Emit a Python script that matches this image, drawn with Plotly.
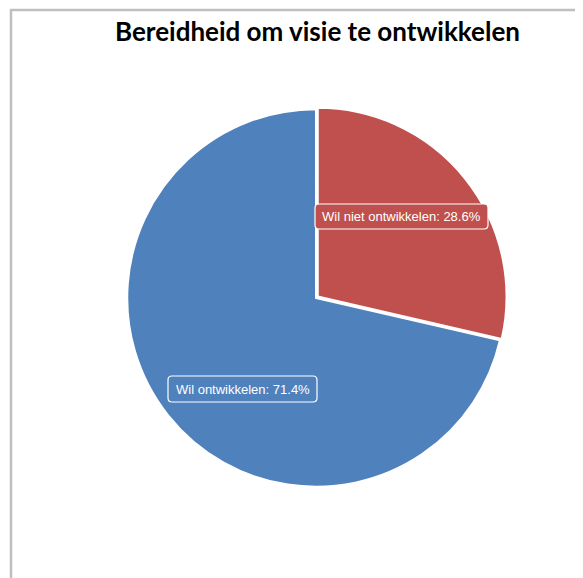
import plotly.graph_objects as go

# page renders with an 8px body margin, so the figure is 8px smaller and coordinates are offset
OFF = 8
W, H = 583 - OFF, 578 - OFF

title = "Bereidheid om visie te ontwikkelen"
categories = ["Wil niet ontwikkelen", "Wil ontwikkelen"]
values = [28.6, 71.4]
colors = ["#C0504D", "#4F81BD"]


def px(x):
    return (x - OFF) / W


def py(y):
    return 1 - (y - OFF) / H


cx, cy, r = 316, 298, 191

fig = go.Figure(go.Pie(
    labels=categories,
    values=values,
    sort=False,
    direction="clockwise",
    rotation=0,
    marker=dict(colors=colors, line=dict(color="white", width=2)),
    pull=[0.012, 0],
    textinfo="none",
    hoverinfo="label+percent",
    showlegend=False,
    domain=dict(x=[px(cx - r), px(cx + r)], y=[py(cy + r), py(cy - r)]),
))


def rounded_rect(x0, y0, x1, y1, rad=4):
    # pixel coords -> paper path with rounded corners
    X0, X1 = px(x0), px(x1)
    Y0, Y1 = py(y0), py(y1)
    rx, ry = rad / W, rad / H
    return (f"M {X0 + rx},{Y0} L {X1 - rx},{Y0} Q {X1},{Y0} {X1},{Y0 - ry} "
            f"L {X1},{Y1 + ry} Q {X1},{Y1} {X1 - rx},{Y1} "
            f"L {X0 + rx},{Y1} Q {X0},{Y1} {X0},{Y1 + ry} "
            f"L {X0},{Y0 - ry} Q {X0},{Y0} {X0 + rx},{Y0} Z")


label_boxes = [(315, 204, 488, 229), (168, 376, 317, 402)]
for cat, val, col, (x0, y0, x1, y1) in zip(categories, values, colors, label_boxes):
    fig.add_shape(type="path", xref="paper", yref="paper",
                  path=rounded_rect(x0, y0, x1, y1),
                  fillcolor=col, line=dict(color="white", width=1.2), layer="above")
    fig.add_annotation(
        x=px((x0 + x1) / 2), y=py((y0 + y1) / 2), xref="paper", yref="paper",
        text=f"{cat}: {val}%", showarrow=False,
        font=dict(family="Liberation Sans, Arial", size=13, color="white"),
        xanchor="center", yanchor="middle",
    )

fig.add_annotation(
    x=px(317), y=py(31), xref="paper", yref="paper",
    text="<b>" + title + "</b>", showarrow=False,
    font=dict(family="Lato, Open Sans", size=26, color="black"),
    xanchor="center", yanchor="middle",
)

# outer frame of chart area
fig.add_shape(type="rect", xref="paper", yref="paper",
              x0=px(11), x1=1.1, y0=-0.1, y1=py(10),
              line=dict(color="#BFBFBF", width=2.5), fillcolor="rgba(0,0,0,0)")

fig.update_layout(
    width=W, height=H,
    margin=dict(l=0, r=0, t=0, b=0),
    paper_bgcolor="white", plot_bgcolor="white",
)

fig.write_html("out.html")
